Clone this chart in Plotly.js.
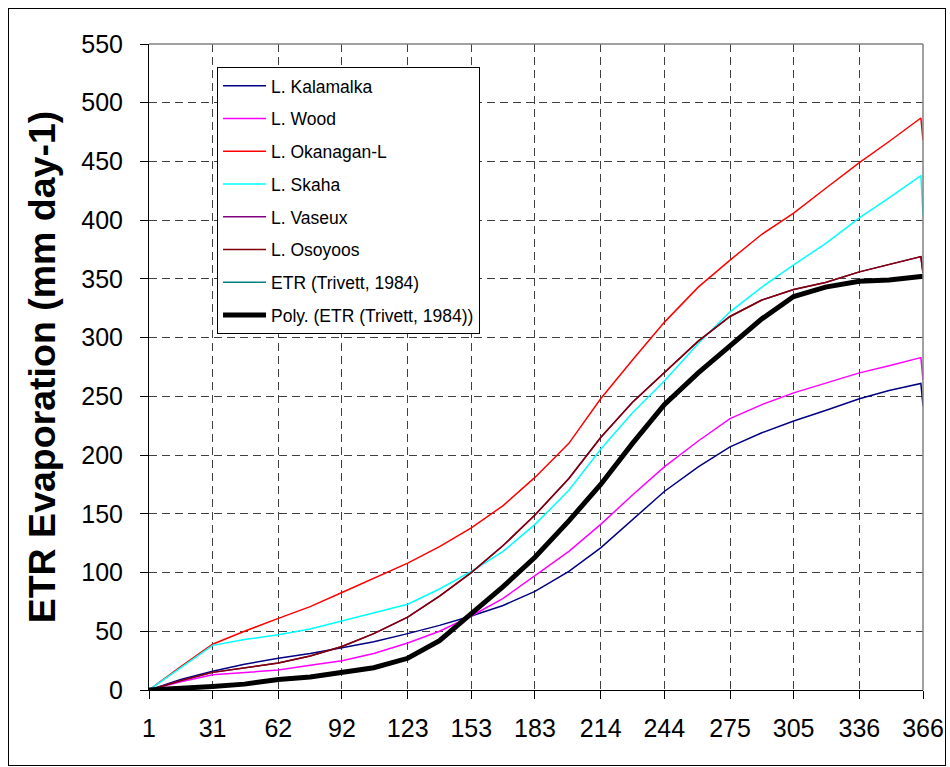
<!DOCTYPE html>
<html>
<head>
<meta charset="utf-8">
<script src="https://cdn.plot.ly/plotly-3.0.1.min.js"></script>
<style>
  html, body { margin: 0; padding: 0; background: #fff; }
  #wrap { position: relative; width: 950px; height: 767px; }
  #chart { width: 950px; height: 767px; }
  #frame { position: absolute; left: 8px; top: 8px; width: 938px; height: 758px; border: 1px solid #000; pointer-events: none; box-sizing: border-box; }
</style>
</head>
<body>
<div id="wrap">
  <div id="chart"></div>
  <div id="frame"></div>
</div>
<script>
// Day of year at which values were read
const days = [1, 16, 31, 46, 62, 77, 92, 107, 123, 138, 153, 168, 183, 199, 214, 229, 244, 260, 275, 290, 305, 320, 336, 350, 365, 366];

// Cumulative evaporation (mm)
const kalamalka = [0, 9, 16, 22, 27, 31, 36, 41, 48, 55, 63, 72, 84, 101, 121, 145, 169, 190, 207, 219, 229, 238, 248, 255, 261, 242];
const wood      = [0, 7, 13, 15, 17, 21, 25, 31, 40, 50, 63, 78, 97, 118, 141, 166, 190, 212, 231, 243, 253, 261, 270, 276, 283, 264];
const okanagan  = [0, 20, 39, 50, 61, 71, 83, 95, 108, 122, 138, 157, 181, 210, 248, 281, 313, 343, 366, 388, 406, 427, 449, 467, 487, 468];
const skaha     = [0, 19, 38, 43, 47, 52, 59, 66, 73, 86, 101, 118, 141, 170, 205, 236, 263, 295, 322, 343, 362, 380, 402, 419, 438, 404];
const vaseux    = [0, 8, 15, 19, 23, 29, 37, 48, 62, 80, 100, 123, 149, 180, 215, 245, 270, 297, 318, 332, 341, 347, 356, 362, 369, 355];
const osoyoos   = [0, 8, 15, 19, 23, 29, 37, 48, 62, 80, 100, 123, 149, 180, 215, 245, 270, 297, 318, 332, 341, 347, 356, 362, 369, 355];
const etr       = [0, 1, 3, 5, 9, 11, 15, 19, 27, 42, 65, 88, 113, 144, 175, 210, 243, 270, 293, 316, 335, 343, 348, 349, 352, 352];
const etrPoly   = [0, 1, 3, 5, 9, 11, 15, 19, 27, 42, 65, 88, 113, 144, 175, 210, 243, 270, 293, 316, 335, 343, 348, 349, 352, 352];

const seriesNames = ["L. Kalamalka", "L. Wood", "L. Okanagan-L", "L. Skaha", "L. Vaseux", "L. Osoyoos", "ETR (Trivett, 1984)", "Poly. (ETR (Trivett, 1984))"];
const seriesColors = ["#000080", "#FF00FF", "#FF0000", "#00FFFF", "#800080", "#800000", "#008080", "#000000"];
const seriesWidths = [1.5, 1.5, 1.5, 1.5, 1.5, 1.5, 1.5, 5];
const seriesValues = [kalamalka, wood, okanagan, skaha, vaseux, osoyoos, etr, etrPoly];

const xTickVals = [1, 31, 62, 92, 123, 153, 183, 214, 244, 275, 305, 336, 366];
const xTickText = ["1", "31", "62", "92", "123", "153", "183", "214", "244", "275", "305", "336", "366"];
const yTickVals = [0, 50, 100, 150, 200, 250, 300, 350, 400, 450, 500, 550];

const traces = seriesValues.map((vals, i) => ({
  x: days,
  y: vals,
  type: "scatter",
  mode: "lines",
  name: seriesNames[i],
  legendgroup: "g" + i,
  line: { color: seriesColors[i], width: seriesWidths[i] },
  hoverinfo: "skip"
}));

const FONT = "Arial, 'Liberation Sans', sans-serif";

const layout = {
  width: 950,
  height: 767,
  margin: { l: 149, r: 27, t: 44, b: 77 },
  paper_bgcolor: "#ffffff",
  plot_bgcolor: "#ffffff",
  showlegend: true,
  legend: {
    x: 0.0879, y: 0.9644, xanchor: "left", yanchor: "top",
    bgcolor: "#ffffff", bordercolor: "#000000", borderwidth: 1,
    font: { family: FONT, size: 17.5, color: "#000" },
    tracegroupgap: 7,
    traceorder: "grouped",
    itemwidth: 43
  },
  xaxis: {
    range: [1, 366],
    tickmode: "array",
    tickvals: xTickVals,
    ticktext: xTickText,
    ticks: "outside", ticklen: 8, tickcolor: "#000", tickwidth: 1,
    ticklabelstandoff: 8,
    tickfont: { family: FONT, size: 25, color: "#000" },
    showline: true, linecolor: "#000", linewidth: 1,
    showgrid: true, gridcolor: "#404040", gridwidth: 1, griddash: "8px,5px",
    zeroline: false,
    fixedrange: true
  },
  yaxis: {
    range: [0, 550],
    tickmode: "array",
    tickvals: yTickVals,
    ticks: "outside", ticklen: 8, tickcolor: "#000", tickwidth: 1,
    ticklabelstandoff: 12,
    tickfont: { family: FONT, size: 25, color: "#000" },
    showline: true, linecolor: "#000", linewidth: 1,
    showgrid: true, gridcolor: "#404040", gridwidth: 1, griddash: "8px,5px",
    zeroline: false,
    title: { text: "ETR Evaporation (mm day-1)", font: { family: FONT, size: 37.5, color: "#000", weight: "bold" }, standoff: 14 },
    fixedrange: true
  },
  shapes: [
    { type: "line", xref: "paper", yref: "paper", x0: 0, x1: 1, y0: 1, y1: 1, line: { color: "#808080", width: 1.5 } },
    { type: "line", xref: "paper", yref: "paper", x0: 1, x1: 1, y0: 0, y1: 1, line: { color: "#808080", width: 1.5 } }
  ]
};

Plotly.newPlot("chart", traces, layout, { staticPlot: true, displayModeBar: false });
</script>
</body>
</html>
